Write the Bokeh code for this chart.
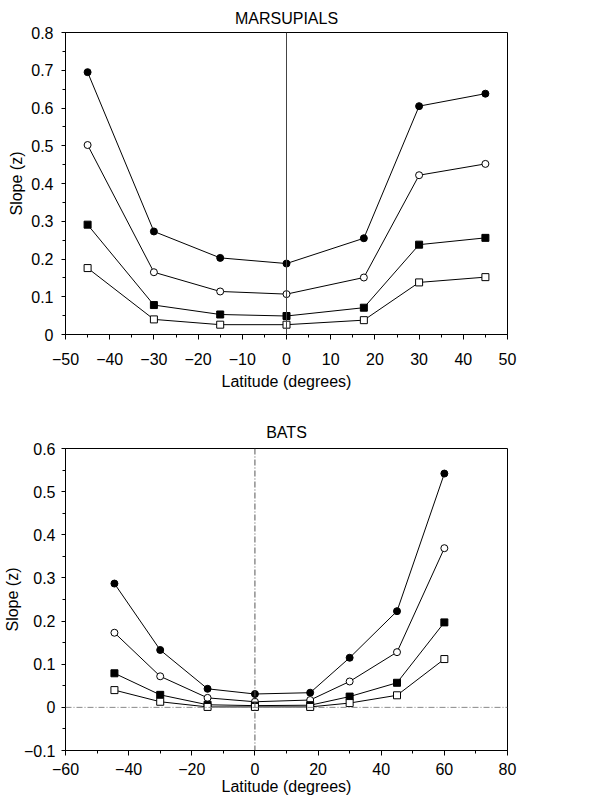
from bokeh.plotting import figure
from bokeh.layouts import column
from bokeh.models import SingleIntervalTicker, CustomJSTickFormatter, Span, Range1d
from bokeh.embed import file_html
from bokeh.resources import INLINE

# ---- Marsupials ----
mars_lat = [-45, -30, -15, 0, 17.5, 30, 45]
mars_filled_circle = [0.695, 0.273, 0.203, 0.188, 0.255, 0.605, 0.638]
mars_open_circle = [0.502, 0.165, 0.114, 0.107, 0.151, 0.422, 0.452]
mars_filled_square = [0.291, 0.078, 0.053, 0.049, 0.071, 0.238, 0.256]
mars_open_square = [0.176, 0.040, 0.026, 0.026, 0.038, 0.138, 0.152]

# ---- Bats ----
bats_lat = [-44.5, -30, -15, 0, 17.5, 30, 45, 60]
bats_filled_circle = [0.287, 0.133, 0.043, 0.031, 0.034, 0.115, 0.223, 0.542]
bats_open_circle = [0.173, 0.072, 0.022, 0.013, 0.017, 0.060, 0.128, 0.369]
bats_filled_square = [0.079, 0.029, 0.006, 0.004, 0.005, 0.025, 0.057, 0.197]
bats_open_square = [0.040, 0.013, 0.001, 0.001, 0.001, 0.010, 0.028, 0.112]

FONT = "Liberation Sans"
fmt = CustomJSTickFormatter(code="""
var v = Math.round(tick*1000)/1000;
return (v < 0 ? '\\u2212' : '') + Math.abs(v).toString();
""")


def make_fig(title, xr, yr, xint, yint, height, mb_top, mb_bottom,
             x_std, x_lab_std, y_std, y_lab_std, title_std):
    p = figure(width=580, height=height, output_backend="svg", toolbar_location=None,
               x_range=Range1d(*xr), y_range=Range1d(*yr),
               min_border_left=65, min_border_right=73,
               min_border_top=mb_top, min_border_bottom=mb_bottom)
    p.title.text = title
    p.title.align = "center"
    p.title.text_font = FONT
    p.title.text_font_size = "16px"
    p.title.text_font_style = "normal"
    p.title.text_color = "black"
    p.title.standoff = title_std
    p.grid.visible = False
    p.outline_line_color = "black"
    p.outline_line_width = 1
    p.outline_line_alpha = 1
    p.xaxis.ticker = SingleIntervalTicker(interval=xint, num_minor_ticks=2)
    p.yaxis.ticker = SingleIntervalTicker(interval=yint, num_minor_ticks=2)
    for ax in (p.xaxis[0], p.yaxis[0]):
        ax.formatter = fmt
        ax.major_label_text_font = FONT
        ax.major_label_text_font_size = "16px"
        ax.major_label_text_color = "black"
        ax.axis_label_text_font = FONT
        ax.axis_label_text_font_size = "16px"
        ax.axis_label_text_font_style = "normal"
        ax.axis_label_text_color = "black"
        ax.major_tick_in = 0
        ax.minor_tick_in = 0
        ax.minor_tick_out = 3
        ax.axis_line_color = "black"
        ax.major_tick_line_color = "black"
        ax.minor_tick_line_color = "black"
    p.xaxis.major_tick_out = 5
    p.yaxis.major_tick_out = 4
    p.xaxis.axis_label = "Latitude (degrees)"
    p.yaxis.axis_label = "Slope (z)"
    p.xaxis.major_label_standoff = x_std
    p.xaxis.axis_label_standoff = x_lab_std
    p.yaxis.major_label_standoff = y_std
    p.yaxis.axis_label_standoff = y_lab_std
    return p


def add_series(p, x, ys):
    fc, oc, fs, os_ = ys
    for y in (fc, oc, fs, os_):
        p.line(x, y, line_color="black", line_width=1)
    p.scatter(x, fc, marker="circle", size=7, fill_color="black", line_color="black")
    p.scatter(x, oc, marker="circle", size=7, fill_color="white", line_color="black")
    p.scatter(x, fs, marker="square", size=7, fill_color="black", line_color="black")
    p.scatter(x, os_, marker="square", size=7, fill_color="white", line_color="black")


p1 = make_fig("MARSUPIALS", (-50, 50), (0, 0.8001), 10, 0.1, 400, 32, 66,
              13, 5, 8, 3, 11)
p1.add_layout(Span(location=0, dimension="height", line_color="#444444", line_width=1))
add_series(p1, mars_lat, [mars_filled_circle, mars_open_circle, mars_filled_square, mars_open_square])

p2 = make_fig("BATS", (-60, 80), (-0.1, 0.6001), 20, 0.1, 400, 48, 50,
              7, 0, 6, 0, 16)
p2.add_layout(Span(location=0, dimension="height", line_color="#555555", line_width=1, line_dash="6 2 1 2"))
p2.add_layout(Span(location=0, dimension="width", line_color="#888888", line_width=1, line_dash="6 2 1 2"))
add_series(p2, bats_lat, [bats_filled_circle, bats_open_circle, bats_filled_square, bats_open_square])

layout = column(p1, p2, spacing=0)
open("out.html", "w").write(file_html(layout, INLINE))
